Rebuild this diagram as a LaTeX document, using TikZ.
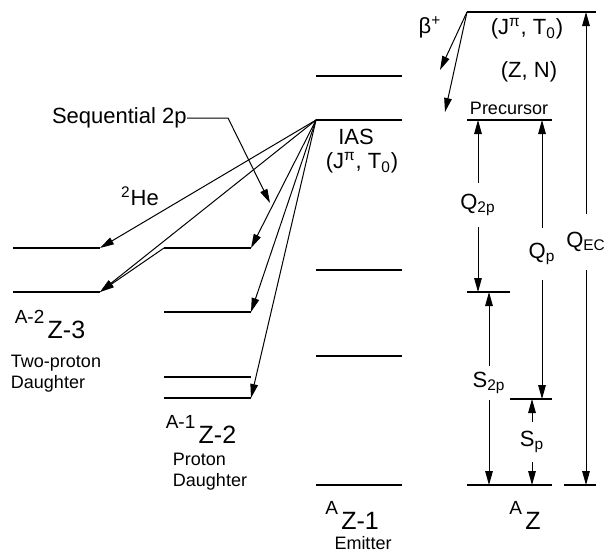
\documentclass[tikz,border=0pt]{standalone}
\usepackage{fontspec}
\setmainfont{Liberation Sans}
\usetikzlibrary{arrows.meta,positioning,calc}

\newcommand{\nucl}[3]{{\fontsize{9.5}{11}\selectfont\raisebox{#3}{#1}}\,{\fontsize{12.5}{15}\selectfont #2}}

\begin{document}
\begin{tikzpicture}[
	x=0.5pt, y=-0.5pt,
	level/.style={line width=0.6pt},
	arr/.style={-{Triangle[length=7pt, width=3.8pt]}, line width=0.5pt},
	txt/.style={inner sep=0pt, font=\fontsize{11}{13}\selectfont},
	small/.style={inner sep=0pt, align=left, font=\fontsize{9}{10.5}\selectfont},
	gap/.style={inner sep=0pt, minimum width=6pt, font=\fontsize{11}{13}\selectfont}
]
\useasboundingbox (0,0) rectangle (610,554);

% emitter levels
\foreach \y in {76,270,356,485}
	\draw[level] (316,\y) -- (402,\y);
\coordinate (ias) at (316,120);
\draw[level] (ias) -- (402,120);

% precursor side
\coordinate (prec) at (467,12);
\coordinate (pre) at (467,120);
\coordinate (thr2p) at (467,292);
\coordinate (thrp) at (510,399);
\coordinate (gnd) at (467,485);
\draw[level] (prec) -- (596,12);
\draw[level] (pre) -- (552,120);
\draw[level] (thr2p) -- (510,292);
\draw[level] (thrp) -- (552,399);
\draw[level] (gnd) -- (552,485);
\draw[level] (564,485) -- (596,485);

% two-proton daughter
\coordinate (t1) at (100,248);
\coordinate (tg) at (100,292);
\draw[level] (13,248) -- (t1);
\draw[level] (13,292) -- (tg);

% proton daughter
\coordinate (p1L) at (164,248);
\coordinate (p1) at (251,248);
\coordinate (p2) at (251,312);
\coordinate (p4) at (251,398);
\draw[level] (p1L) -- (p1);
\draw[level] (164,312) -- (p2);
\draw[level] (164,377) -- (251,377);
\draw[level] (164,398) -- (p4);

% decays from the IAS
\foreach \t in {t1,tg,p1,p2,p4}
	\draw[arr] (ias) -- (\t);
\draw[arr] (p1L) -- (tg);

% beta feeding
\coordinate (b1) at (440,70);
\coordinate (b2) at (445,112);
\draw[arr] (prec) -- (b1);
\draw[arr] (prec) -- (b2);
\node[txt] (beta) at (430,27) {β\textsuperscript{+}};

% labels
\node[txt, anchor=east] (seq) at (187,118) {Sequential 2p};
\coordinate (seqk) at (228,118);
\coordinate (seqt) at (270,203);
\draw[arr] (seq.east) -- (seqk) -- (seqt);
\node[txt] (he) at (140,196) {\textsuperscript{2}He};
\node[txt] (iaslbl) at (356,137) {IAS};
\node[txt] (iasjt) at (362,163) {(J\textsuperscript{π}, T\textsubscript{0})};
\node[txt] (precjt) at (527,29) {(J\textsuperscript{π}, T\textsubscript{0})};
\node[txt] (preczn) at (529,72) {(Z, N)};
\node[small] (preclbl) at (509,108) {Precursor};

\node[inner sep=0pt] (d2) at (50,324) {\nucl{A-2}{Z-3}{7.5pt}};
\node[small] (d2txt) at (56,374) {Two-proton\\Daughter};
\node[inner sep=0pt] (d1) at (201,429) {\nucl{A-1}{Z-2}{7.5pt}};
\node[small] (d1txt) at (210,472) {Proton\\Daughter};
\node[inner sep=0pt] (em) at (352,515) {\nucl{A}{Z-1}{7.5pt}};
\node[small] (emtxt) at (363,543) {Emitter};
\node[inner sep=0pt] (az) at (525,515) {\nucl{A}{Z}{7.5pt}};

% energy differences
\node[gap, minimum height=22pt] (q2p) at (478,205) {Q\textsubscript{2p}};
\draw[arr] (q2p) -- (q2p |- pre);
\draw[arr] (q2p) -- (q2p |- thr2p);
\node[gap, minimum height=26pt] (qp) at (542,254) {Q\textsubscript{p}};
\draw[arr] (qp) -- (qp |- pre);
\draw[arr] (qp) -- (qp |- thrp);
\node[gap, minimum height=27.5pt] (qec) at (586,242) {Q\textsubscript{EC}};
\draw[arr] (qec) -- (qec |- prec);
\draw[arr] (qec) -- (qec |- gnd);
\node[gap, minimum height=16.5pt] (s2p) at (489,383) {S\textsubscript{2p}};
\draw[arr] (s2p) -- (s2p |- thr2p);
\draw[arr] (s2p) -- (s2p |- gnd);
\node[gap, minimum height=19.5pt] (sp) at (532,442) {S\textsubscript{p}};
\draw[arr] (sp) -- (sp |- thrp);
\draw[arr] (sp) -- (sp |- gnd);
\end{tikzpicture}
\end{document}
